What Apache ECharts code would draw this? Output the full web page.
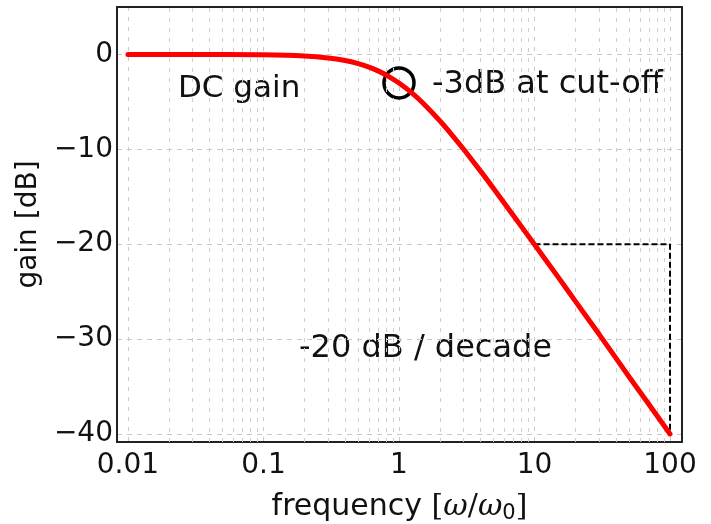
<!DOCTYPE html>
<html>
<head>
<meta charset="utf-8">
<script src="https://cdn.jsdelivr.net/npm/echarts@6/dist/echarts.min.js"></script>
<style>html,body{margin:0;padding:0;background:#fff;}#c{width:711px;height:524px;}</style>
</head>
<body>
<div id="c"></div>
<script>
// ---- data ----
var freq = [0.01, 0.05, 0.1, 0.2, 0.3, 0.4, 0.5, 0.6, 0.7, 0.8, 1, 1.25, 1.5, 2, 2.5, 3, 4, 5, 7, 10, 15, 20, 30, 50, 70, 100];
var gain = [0, -0.01, -0.04, -0.17, -0.37, -0.64, -0.97, -1.34, -1.73, -2.15, -3.01, -4.08, -5.12, -6.99, -8.6, -10, -12.3, -14.15, -17.0, -20.04, -23.5, -26.0, -29.5, -34.0, -36.9, -40.0];
var cutoff = [1, -3];
var slopeFreq = [10, 100, 100];
var slopeGain = [-20, -20, -40];
var decades = [0.01, 0.1, 1, 10];
var minorMultipliers = [2, 3, 4, 5, 6, 7, 8, 9];
var xTickLabels = ['0.01', '0.1', '1', '10', '100'];
var yTicks = [-40, -30, -20, -10, 0];

var minorLines = [];
decades.forEach(function (d) {
  minorMultipliers.forEach(function (m) { minorLines.push({ xAxis: +(d * m).toPrecision(3) }); });
});

var curve = freq.map(function (f, i) { return [f, gain[i]]; });
var slope = slopeFreq.map(function (f, i) { return [f, slopeGain[i]]; });

var FONT = 'DejaVu Sans';
var XMIN = 0.0083, XMAX = 122.6, YMIN = -40.85, YMAX = 5;
var frameLine = { show: true, onZero: false, lineStyle: { color: '#222', width: 2 } };
var chart = echarts.init(document.getElementById('c'), null, { renderer: 'canvas' });
chart.setOption({
  animation: false,
  backgroundColor: '#fff',
  grid: { left: 117, top: 7, right: 29, bottom: 82, containLabel: false, outerBoundsMode: 'none' },
  xAxis: [{
    type: 'log', logBase: 10, min: XMIN, max: XMAX,
    name: '{a|frequency }{b|[}{c|ω}{b|/}{c|ω}{d|0}{b|]}',
    nameLocation: 'middle', nameGap: 49,
    nameTextStyle: {
      rich: {
        a: { fontFamily: FONT, fontSize: 30, color: '#111' },
        b: { fontFamily: 'DejaVu Serif', fontSize: 30, color: '#111' },
        c: { fontFamily: 'DejaVu Serif', fontStyle: 'italic', fontSize: 30, color: '#111' },
        d: { fontFamily: FONT, fontSize: 21, color: '#111', padding: [12, 0, 0, 0] }
      }
    },
    axisLine: frameLine,
    axisTick: { show: false },
    axisLabel: {
      showMinLabel: false, showMaxLabel: false, margin: 10,
      fontFamily: FONT, fontSize: 28, color: '#111',
      formatter: function (v) {
        var i = Math.round(Math.log10(v)) + 2;
        return xTickLabels[i] !== undefined ? xTickLabels[i] : '';
      }
    },
    splitLine: { show: true, lineStyle: { color: '#c8c8c8', width: 1, type: [4, 6] } }
  }, {
    type: 'log', logBase: 10, min: XMIN, max: XMAX, position: 'top',
    axisLine: frameLine, axisTick: { show: false }, axisLabel: { show: false }, splitLine: { show: false }
  }],
  yAxis: [{
    type: 'value', min: YMIN, max: YMAX,
    name: 'gain [dB]', nameLocation: 'middle', nameGap: 47, nameRotate: 90,
    nameTextStyle: { fontFamily: FONT, fontSize: 28, color: '#111' },
    axisLine: frameLine,
    axisTick: { show: false },
    axisLabel: {
      showMinLabel: false, showMaxLabel: false, margin: 4,
      fontFamily: FONT, fontSize: 28, color: '#111',
      formatter: function (v) { return yTicks.indexOf(v) >= 0 ? String(v).replace('-', '\u2212') : ''; }
    },
    splitLine: { show: true, lineStyle: { color: '#c8c8c8', width: 1, type: [5, 5] } }
  }, {
    type: 'value', min: YMIN, max: YMAX, position: 'right',
    axisLine: frameLine, axisTick: { show: false }, axisLabel: { show: false }, splitLine: { show: false }
  }],
  series: [
    {
      type: 'line', data: [], silent: true, symbol: 'none',
      markLine: {
        silent: true, symbol: ['none', 'none'], label: { show: false },
        lineStyle: { color: '#cfcfcf', width: 1, type: [4, 6] },
        data: minorLines
      }
    },
    {
      type: 'line', data: slope, symbol: 'none', silent: true, z: 3,
      lineStyle: { color: '#000', width: 2, type: [6, 3] }
    },
    {
      type: 'scatter', data: [cutoff], symbol: 'circle', symbolSize: 30, silent: true, z: 4,
      itemStyle: { color: 'rgba(0,0,0,0)', borderColor: '#000', borderWidth: 3.5, opacity: 1 }
    },
    {
      type: 'line', data: curve, symbol: 'none', smooth: 0.3, silent: true, z: 5,
      lineStyle: { color: '#ff0000', width: 5, cap: 'round' }
    }
  ],
  graphic: [
    { type: 'text', x: 178, y: 89, style: { text: 'DC gain', font: '31px "DejaVu Sans"', fill: '#111', verticalAlign: 'middle' } },
    { type: 'text', x: 432, y: 85, style: { text: '-3dB at cut-off', font: '32px "DejaVu Sans"', fill: '#111', verticalAlign: 'middle' } },
    { type: 'text', x: 299, y: 349, style: { text: '-20 dB / decade', font: '32px "DejaVu Sans"', fill: '#111', verticalAlign: 'middle' } }
  ]
});
</script>
</body>
</html>
